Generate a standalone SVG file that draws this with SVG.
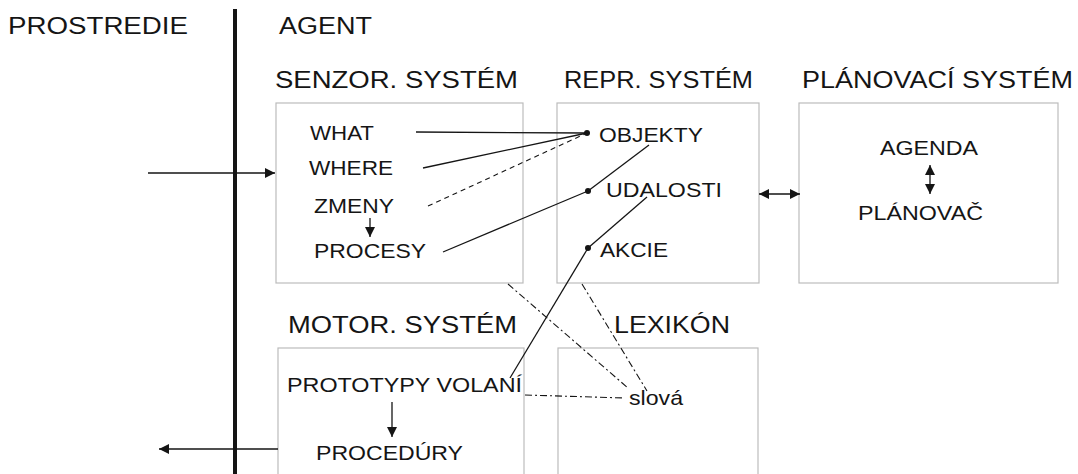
<svg xmlns="http://www.w3.org/2000/svg" width="1078" height="474" viewBox="0 0 1078 474">
<style>
text{font-family:"Liberation Sans",Arial,sans-serif;fill:#151515}
.t{font-size:23px}
.i{font-size:21px}
.box{fill:#fff;stroke:#bcbcbc;stroke-width:1.2}
.ln{stroke:#151515;stroke-width:1.3;fill:none}
.dash{stroke:#151515;stroke-width:1.1;fill:none;stroke-dasharray:5 4}
.dd{stroke:#151515;stroke-width:1.1;fill:none;stroke-dasharray:7 3 2 3}
.dot{fill:#151515}
</style>
<defs>
<marker id="ah" viewBox="0 0 10 10" refX="10" refY="5" markerWidth="11" markerHeight="10" markerUnits="userSpaceOnUse" orient="auto-start-reverse">
<path d="M0,0 L10,5 L0,10 z" fill="#151515"/>
</marker>
</defs>
<g id="labels">
<text class="t" x="8" y="34" textLength="180" lengthAdjust="spacingAndGlyphs">PROSTREDIE</text>
<text class="t" x="279" y="34" textLength="93" lengthAdjust="spacingAndGlyphs">AGENT</text>
</g>
<g id="divider"><line x1="235" y1="9" x2="235" y2="474" stroke="#151515" stroke-width="4"/></g>
<g id="senzor">
<text class="t" x="275" y="88" textLength="243" lengthAdjust="spacingAndGlyphs">SENZOR. SYSTÉM</text>
<rect class="box" x="276" y="103" width="247" height="180"/>
<text class="i" x="310" y="140" textLength="64" lengthAdjust="spacingAndGlyphs">WHAT</text>
<text class="i" x="309" y="175" textLength="84" lengthAdjust="spacingAndGlyphs">WHERE</text>
<text class="i" x="314" y="213" textLength="80" lengthAdjust="spacingAndGlyphs">ZMENY</text>
<line class="ln" x1="370" y1="218" x2="370" y2="237" marker-end="url(#ah)"/>
<text class="i" x="314" y="258" textLength="112" lengthAdjust="spacingAndGlyphs">PROCESY</text>
</g>
<g id="repr">
<text class="t" x="564" y="88" textLength="189" lengthAdjust="spacingAndGlyphs">REPR. SYSTÉM</text>
<rect class="box" x="557" y="103" width="202" height="180"/>
<text class="i" x="599" y="142" textLength="104" lengthAdjust="spacingAndGlyphs">OBJEKTY</text>
<text class="i" x="606" y="197" textLength="116" lengthAdjust="spacingAndGlyphs">UDALOSTI</text>
<text class="i" x="600" y="257" textLength="68" lengthAdjust="spacingAndGlyphs">AKCIE</text>
<circle class="dot" cx="587" cy="133" r="3"/>
<circle class="dot" cx="588" cy="191" r="3"/>
<circle class="dot" cx="588" cy="248" r="3"/>
</g>
<g id="planovaci">
<text class="t" x="802" y="88" textLength="271" lengthAdjust="spacingAndGlyphs">PLÁNOVACÍ SYSTÉM</text>
<rect class="box" x="799" y="103" width="259" height="180"/>
<text class="i" x="880" y="155" textLength="98" lengthAdjust="spacingAndGlyphs">AGENDA</text>
<line class="ln" x1="930" y1="165" x2="930" y2="194" marker-start="url(#ah)" marker-end="url(#ah)"/>
<text class="i" x="858" y="220" textLength="125" lengthAdjust="spacingAndGlyphs">PLÁNOVAČ</text>
</g>
<g id="motor">
<text class="t" x="288" y="333" textLength="229" lengthAdjust="spacingAndGlyphs">MOTOR. SYSTÉM</text>
<rect class="box" x="278" y="348" width="246" height="140"/>
<text class="i" x="287" y="392" textLength="235" lengthAdjust="spacingAndGlyphs">PROTOTYPY VOLANÍ</text>
<line class="ln" x1="392" y1="402" x2="392" y2="437" marker-end="url(#ah)"/>
<text class="i" x="316" y="460" textLength="147" lengthAdjust="spacingAndGlyphs">PROCEDÚRY</text>
</g>
<g id="lexikon">
<text class="t" x="614" y="333" textLength="116" lengthAdjust="spacingAndGlyphs">LEXIKÓN</text>
<rect class="box" x="558" y="348" width="200" height="140"/>
<text class="i" x="629" y="405" textLength="54" lengthAdjust="spacingAndGlyphs">slová</text>
</g>
<g id="connectors">
<line class="ln" x1="148" y1="173" x2="275" y2="173" marker-end="url(#ah)"/>
<line class="ln" x1="278" y1="449" x2="159" y2="449" marker-end="url(#ah)"/>
<line class="ln" x1="759" y1="194" x2="800" y2="194" marker-start="url(#ah)" marker-end="url(#ah)"/>
<line class="ln" x1="416" y1="132" x2="587" y2="133"/>
<line class="ln" x1="423" y1="168" x2="587" y2="133"/>
<line class="dash" x1="428" y1="206" x2="587" y2="133"/>
<line class="ln" x1="443" y1="252" x2="588" y2="191"/>
<line class="ln" x1="588" y1="191" x2="649" y2="145"/>
<line class="ln" x1="588" y1="248" x2="647" y2="197"/>
<line class="ln" x1="588" y1="248" x2="510" y2="378"/>
<line class="dd" x1="508" y1="284" x2="628" y2="388"/>
<line class="dd" x1="582" y1="284" x2="647" y2="391"/>
<line class="dd" x1="525" y1="395" x2="625" y2="398"/>
</g>
</svg>
